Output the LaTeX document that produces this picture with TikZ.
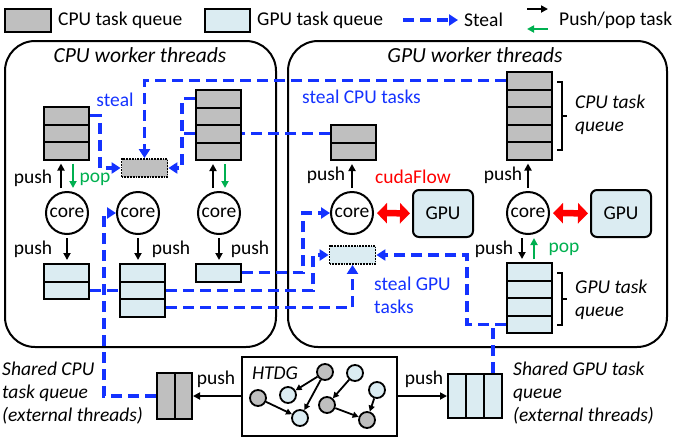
\documentclass[tikz,border=0pt]{standalone}
\usepackage{fontspec}
\setmainfont{Carlito}
\usepackage{tikz}
\usetikzlibrary{arrows.meta}

\definecolor{cpugray}{RGB}{191,191,191}
\definecolor{gpublue}{RGB}{219,236,242}
\definecolor{stealblue}{RGB}{20,50,255}
\definecolor{popgreen}{RGB}{0,176,80}
\definecolor{flowred}{RGB}{255,0,0}

\begin{document}
\begin{tikzpicture}[x=1pt, y=-1pt, font=\fontsize{19.5}{23}\selectfont]

	\tikzstyle panel=[draw, line width=2pt, rounded corners=30pt, inner sep=0]
	\tikzstyle cpu cell=[draw, line width=2pt, fill=cpugray, minimum width=45pt, minimum height=17.5pt, inner sep=0]
	\tikzstyle gpu cell=[cpu cell, fill=gpublue]
	\tikzstyle stolen box=[draw, densely dotted, line width=1.8pt, minimum width=46pt, minimum height=18pt, inner sep=0]
	\tikzstyle core node=[draw, circle, line width=2pt, minimum size=42pt, inner sep=0]
	\tikzstyle gpu node=[draw, line width=2pt, fill=gpublue, rounded corners=6pt, minimum width=60pt, minimum height=47pt]
	\tikzstyle steal line=[stealblue, line width=3.2pt, dash pattern=on 11pt off 6pt, -{Triangle[length=9pt,width=11pt]}]
	\tikzstyle push line=[line width=2pt, shorten <=3pt, shorten >=3pt, -{Triangle[length=7pt,width=7pt]}]
	\tikzstyle pop line=[push line, popgreen]
	\tikzstyle gpu link=[flowred, line width=6.5pt, shorten <=3pt, shorten >=2pt, {Triangle[length=10pt,width=20pt]}-{Triangle[length=10pt,width=20pt]}]
	\tikzstyle txt=[inner sep=1pt]
	\tikzstyle itxt=[inner sep=1pt, font=\fontsize{19.5}{23}\selectfont\itshape]
	\tikzstyle title=[inner sep=1pt, font=\fontsize{21.5}{25}\selectfont\itshape]
	\tikzstyle dag cpu=[draw, circle, line width=1.8pt, fill=cpugray, minimum size=16pt, inner sep=0]
	\tikzstyle dag gpu=[dag cpu, fill=gpublue]
	\tikzstyle dag edge=[line width=1.8pt, -{Triangle[length=6pt,width=6pt]}]

	\useasboundingbox (0,0) rectangle (673,440);

	% legend
	\node[cpu cell, minimum width=46pt, minimum height=23pt] (keycpu) at (28,20) {};
	\node[txt, anchor=west] (keycputext) at (57,20) {CPU task queue};
	\node[gpu cell, minimum width=45pt, minimum height=23pt] (keygpu) at (227.5,20) {};
	\node[txt, anchor=west] (keygputext) at (256,20) {GPU task queue};
	\coordinate (keysteal) at (403,20);
	\node[txt, anchor=west] (keystealtext) at (463,20) {Steal};
	\draw[steal line, shorten >=5pt] (keysteal) -- (keystealtext.west);
	\coordinate (keypush) at (527,9);
	\coordinate (keypop) at (548,29);
	\node[txt, anchor=west] (keypushtext) at (558,20) {Push/pop task};
	\draw[line width=2pt, -{Triangle[length=7pt,width=7pt]}] (keypush) -- (keypush -| keypop);
	\draw[popgreen, line width=2pt, -{Triangle[length=7pt,width=7pt]}] (keypop) -- (keypop -| keypush);

	% worker panels
	\node[panel, minimum width=271pt, minimum height=306pt] (cpupanel) at (140.5,194) {};
	\node[panel, minimum width=379pt, minimum height=306pt] (gpupanel) at (477.5,194) {};
	\node[title] (cputitle) at (140,55) {CPU worker threads};
	\node[title] (gputitle) at (475,55) {GPU worker threads};

	% cpu task queues
	\foreach \i/\y in {1/115.75,2/133.25,3/150.75}
		\node[cpu cell] (qcA\i) at (66.5,\y) {};
	\foreach \i/\y in {1/98.75,2/116.25,3/133.75,4/151.25}
		\node[cpu cell] (qcB\i) at (218.5,\y) {};
	\foreach \i/\y in {1/133.75,2/151.25}
		\node[cpu cell] (qcC\i) at (353.5,\y) {};
	\foreach \i/\y in {1/80.75,2/98.25,3/115.75,4/133.25,5/150.75}
		\node[cpu cell] (qcD\i) at (529.5,\y) {};

	% gpu task queues
	\foreach \i/\y in {1/272.75,2/290.25}
		\node[gpu cell] (qgA\i) at (66.5,\y) {};
	\foreach \i/\y in {1/272.75,2/290.25,3/307.75}
		\node[gpu cell] (qgB\i) at (142.5,\y) {};
	\node[gpu cell] (qgC1) at (218,272.75) {};
	\foreach \i/\y in {1/271.75,2/289.25,3/306.75,4/324.25}
		\node[gpu cell] (qgE\i) at (529.5,\y) {};

	\node[stolen box, fill=cpugray] (csteal) at (144.5,168) {};
	\node[stolen box, fill=gpublue] (gsteal) at (352.5,255) {};

	% cores and gpus
	\foreach \name/\x in {core1/67,core2/138,core3/219,core4/352,core5/528}
		\node[core node] (\name) at (\x,213) {core};
	\node[gpu node] (gpu1) at (443,213.5) {GPU};
	\node[gpu node] (gpu2) at (621,213.5) {GPU};
	\draw[gpu link] (core4) -- (gpu1);
	\draw[gpu link] (core5) -- (gpu2);

	% push and pop
	\draw[push line] ([xshift=-6pt]core1.north) -- ([xshift=-6pt]core1.north |- qcA3.south);
	\draw[pop line] ([xshift=6pt]core1.north |- qcA3.south) -- ([xshift=6pt]core1.north);
	\draw[push line] ([xshift=-6pt]core3.north) -- ([xshift=-6pt]core3.north |- qcB4.south);
	\draw[pop line] ([xshift=6pt]core3.north |- qcB4.south) -- ([xshift=6pt]core3.north);
	\draw[push line] (core4.north) -- (core4.north |- qcC2.south);
	\draw[push line] (core5.north) -- (core5.north |- qcD5.south);
	\draw[push line] (core1.south) -- (core1.south |- qgA1.north);
	\draw[push line] (core2.south) -- (core2.south |- qgB1.north);
	\draw[push line] (core3.south) -- (core3.south |- qgC1.north);
	\draw[push line] ([xshift=-6pt]core5.south) -- ([xshift=-6pt]core5.south |- qgE1.north);
	\draw[pop line] ([xshift=6pt]core5.south |- qgE1.north) -- ([xshift=6pt]core5.south);

	\node[txt] (pushA) at (33,178) {push};
	\node[txt, text=popgreen] (popA) at (95,179) {pop};
	\node[txt] (push1) at (33,249) {push};
	\node[txt] (push2) at (171,249) {push};
	\node[txt] (push3) at (250,249) {push};
	\node[txt] (pushC) at (326,175) {push};
	\node[txt] (pushD) at (503,175) {push};
	\node[txt, text=flowred] (cudaflow) at (413,177) {cudaFlow};
	\node[txt] (push5) at (494,249) {push};
	\node[txt, text=popgreen] (pop5) at (564,249) {pop};

	% stealing
	\draw[steal line] (qcA1.east) -| (100,168) -- (csteal.west);
	\draw[steal line] (qcD1.west) -| (csteal.north);
	\draw[steal line] (qcB1.west) -| (182,168) -- (csteal.east);
	\draw[steal line, -] (qcC1.west) -- (qcB3.east);
	\draw[steal line, -] (qcB3.west) -- ++(-13,0);
	\draw[steal line] (qgC1.east) -| (303,213) -- (core4.west);
	\draw[steal line, -] (qgA2.east) -- (qgB2.west);
	\draw[steal line] (qgB2.east) -| (313,255) -- (gsteal.west);
	\draw[steal line] (qgB3.east) -| (gsteal.south);
	\draw[steal line] (qgE4.west) -| (467,255) -- (gsteal.east);

	\node[txt, text=stealblue] (stealtext) at (115,100) {steal};
	\node[txt, text=stealblue, anchor=west] (stealcpu) at (301,97) {steal CPU tasks};
	\node[txt, text=stealblue, anchor=west, align=left] (stealgpu) at (373,295) {steal GPU\\tasks};

	% queue braces
	\draw[line width=2pt] (557,82) -- (562,82) -- (562,150) -- (557,150) (562,116) -- (567,116);
	\draw[line width=2pt] (557,273) -- (562,273) -- (562,325) -- (557,325) (562,299) -- (567,299);
	\node[itxt, anchor=west, align=left] (cpuqtext) at (574,115) {CPU task\\queue};
	\node[itxt, anchor=west, align=left] (gpuqtext) at (574,300) {GPU task\\queue};

	% shared queues and the graph
	\foreach \i/\x in {1/165.75,2/183.25}
		\node[cpu cell, minimum width=17.5pt, minimum height=46pt] (shcpu\i) at (\x,396) {};
	\foreach \i/\x in {1/457,2/475,3/493}
		\node[gpu cell, minimum width=18pt, minimum height=44pt] (shgpu\i) at (\x,396) {};
	\node[draw, line width=2pt, minimum width=155pt, minimum height=79pt] (htdg) at (319.5,396) {};
	\node[itxt] (htdgtext) at (275,373) {HTDG};

	\foreach \name/\x/\y in {t1/258/398,t3/325/372,t6/327/405,t8/367/420}
		\node[dag cpu] (\name) at (\x,\y) {};
	\foreach \name/\x/\y in {t2/288/395,t4/300/418,t5/355/373,t7/377/390}
		\node[dag gpu] (\name) at (\x,\y) {};
	\foreach \a/\b in {t3/t2,t3/t4,t1/t4,t5/t6,t6/t8,t7/t8}
		\draw[dag edge] (\a) -- (\b);

	\draw[push line, shorten <=0pt, shorten >=0pt] (htdg.west) -- (shcpu2.east);
	\draw[push line, shorten <=0pt, shorten >=0pt] (htdg.east) -- (shgpu1.west);
	\node[txt] (pushcpu) at (216,379) {push};
	\node[txt] (pushgpu) at (424,379) {push};

	\draw[steal line] (shcpu1.west) -| (104,213) -- (core2.west);
	\draw[steal line, -] (shgpu3.north) -- (shgpu3.north |- qgE4.west);

	\node[itxt, anchor=west, align=left] (shcputext) at (1,393) {Shared CPU\\task queue\\(external threads)};
	\node[itxt, anchor=west, align=left] (shgputext) at (512,393) {Shared GPU task\\queue\\(external threads)};

\end{tikzpicture}
\end{document}
